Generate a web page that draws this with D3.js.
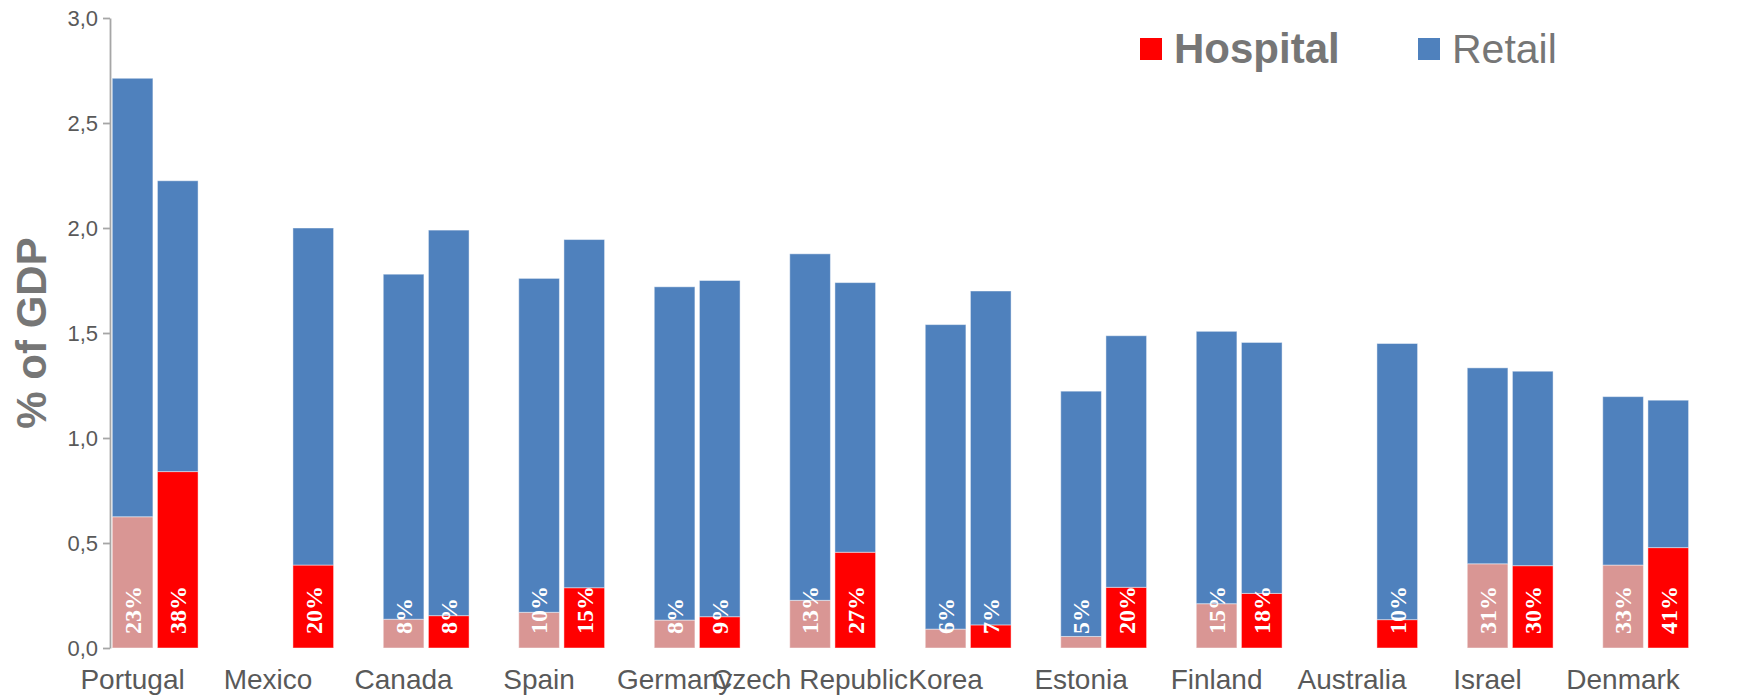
<!DOCTYPE html>
<html>
<head>
<meta charset="utf-8">
<script src="https://cdn.jsdelivr.net/npm/d3@7"></script>
<style>
  html, body { margin: 0; padding: 0; background: #fff; }
  svg { display: block; }
</style>
</head>
<body>
<svg id="chart" width="1744" height="698"></svg>
<script>
const countries = ["Portugal","Mexico","Canada","Spain","Germany","Czech Republic","Korea","Estonia","Finland","Australia","Israel","Denmark"];
// earlier period (pale hospital) and later period (red hospital); null = no bar
const hospital1 = [0.625, null, 0.137, 0.170, 0.133, 0.227, 0.090, 0.055, 0.211, null, 0.401, 0.395];
const retail1   = [2.088, null, 1.643, 1.590, 1.587, 1.650, 1.450, 1.168, 1.297, null, 0.933, 0.802];
const hospital2 = [0.840, 0.395, 0.154, 0.287, 0.149, 0.456, 0.110, 0.289, 0.260, 0.135, 0.392, 0.478];
const retail2   = [1.385, 1.605, 1.836, 1.658, 1.601, 1.284, 1.590, 1.198, 1.195, 1.315, 0.926, 0.702];
const labels1 = ["23%", null, "8%", "10%", "8%", "13%", "6%", "5%", "15%", null, "31%", "33%"];
const labels2 = ["38%", "20%", "8%", "15%", "9%", "27%", "7%", "20%", "18%", "10%", "30%", "41%"];
const yTicks = [0, 0.5, 1, 1.5, 2, 2.5, 3];
const legendItems = ["Hospital", "Retail"];

const svg = d3.select("#chart");
svg.append("rect").attr("width", 1744).attr("height", 698).attr("fill", "#fff");

const x = d3.scaleBand().domain(countries).range([110, 1736]);
const inner = d3.scaleBand().domain(["p1", "p2", "gap"]).range([0, x.bandwidth()])
  .paddingInner(0.1).paddingOuter(0.05);
const y = d3.scaleLinear().domain([0, 3]).range([648, 18]);

const BLUE = "#4F81BD", RED = "#FF0000", PINK = "#D99694";

// Y axis
const yAxis = d3.axisLeft(y).tickValues(yTicks).tickSize(7).tickSizeOuter(0)
  .tickFormat(d => d3.format(".1f")(d).replace(".", ","));
const ga = svg.append("g").attr("transform", "translate(110,0)").call(yAxis);
ga.select(".domain").attr("stroke", "#A6A6A6").attr("stroke-width", 1.8);
ga.selectAll(".tick line").attr("stroke", "#A6A6A6").attr("stroke-width", 1.8);
ga.selectAll(".tick text").attr("fill", "#595959").attr("font-family", "Liberation Sans, Arial, sans-serif")
  .attr("font-size", 22).attr("x", -12);

// Bars
const periods = [
  {key: "p1", hosp: hospital1, ret: retail1, color: PINK, labels: labels1},
  {key: "p2", hosp: hospital2, ret: retail2, color: RED, labels: labels2}
];
const gb = svg.append("g");
periods.forEach(p => {
  countries.forEach((c, i) => {
    const h = p.hosp[i], r = p.ret[i];
    if (h == null) return;
    const bx = x(c) + inner(p.key), bw = inner.bandwidth();
    gb.append("rect").attr("x", bx).attr("width", bw)
      .attr("y", y(h)).attr("height", y(0) - y(h))
      .attr("fill", p.color).attr("stroke", "rgba(255,255,255,0.45)").attr("stroke-width", 1);
    gb.append("rect").attr("x", bx).attr("width", bw)
      .attr("y", y(h + r)).attr("height", y(h) - y(h + r))
      .attr("fill", BLUE).attr("stroke", "rgba(255,255,255,0.45)").attr("stroke-width", 1);
    const cx = bx + bw / 2, ly = y(0) - 14;
    gb.append("text").text(p.labels[i])
      .attr("transform", `translate(${cx},${ly}) rotate(-90)`)
      .attr("text-anchor", "start").attr("dy", "0.35em")
      .attr("fill", "#fff").attr("font-family", "Liberation Serif, Times New Roman, serif")
      .attr("font-weight", "bold").attr("font-size", 24);
  });
});

// Category labels (centered under first bar slot)
svg.append("g").selectAll("text").data(countries).join("text")
  .attr("x", d => x(d) + inner("p1") + inner.bandwidth() / 2)
  .attr("y", 689)
  .attr("text-anchor", "middle")
  .attr("fill", "#595959").attr("font-family", "Liberation Sans, Arial, sans-serif")
  .attr("font-size", 28)
  .text(d => d);

// Y axis title
svg.append("text").text("% of GDP")
  .attr("transform", "translate(31,333) rotate(-90)")
  .attr("text-anchor", "middle").attr("dy", "0.35em")
  .attr("fill", "#767676").attr("font-family", "Liberation Sans, Arial, sans-serif")
  .attr("font-weight", "bold").attr("font-size", 42);

// Legend
const lg = svg.append("g");
lg.append("rect").attr("x", 1140).attr("y", 38).attr("width", 22).attr("height", 22).attr("fill", RED);
lg.append("text").text(legendItems[0]).attr("x", 1174).attr("y", 63)
  .attr("fill", "#767676").attr("font-family", "Liberation Sans, Arial, sans-serif")
  .attr("font-weight", "bold").attr("font-size", 42);
lg.append("rect").attr("x", 1418).attr("y", 38).attr("width", 22).attr("height", 22).attr("fill", BLUE);
lg.append("text").text(legendItems[1]).attr("x", 1452).attr("y", 63)
  .attr("fill", "#767676").attr("font-family", "Liberation Sans, Arial, sans-serif")
  .attr("font-size", 41);
</script>
</body>
</html>
